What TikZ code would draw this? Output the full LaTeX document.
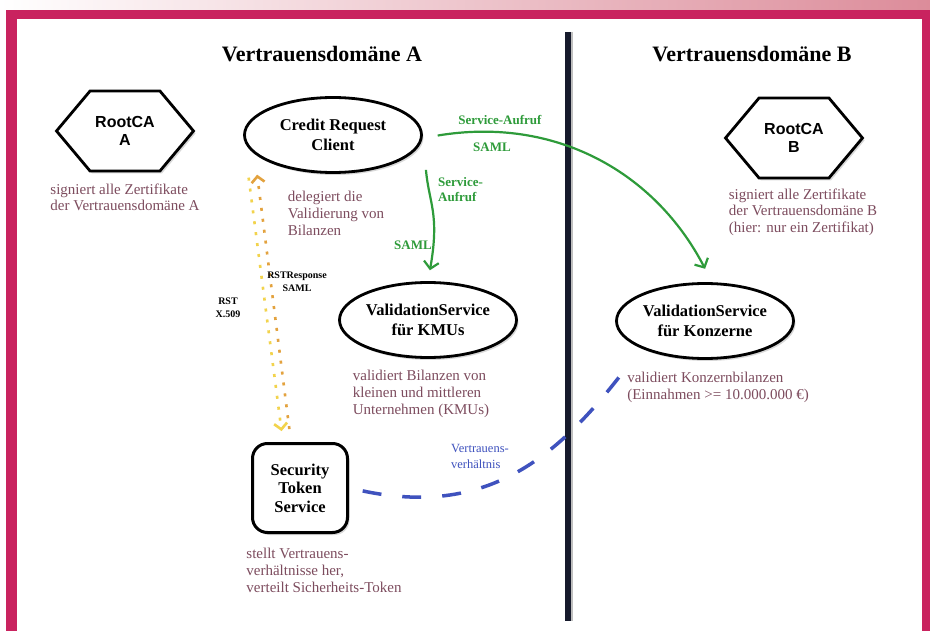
\documentclass[tikz,border=0pt]{standalone}
\usepackage{fontspec}
\setmainfont{Liberation Serif}
\setsansfont{Liberation Sans}
\usetikzlibrary{arrows.meta,positioning,shapes.geometric,shapes.symbols,shadows}
\definecolor{framepink}{HTML}{C9235F}
\definecolor{bandpink}{HTML}{DC8C9A}
\definecolor{notebrown}{HTML}{7D4C5E}
\definecolor{callgreen}{HTML}{2E9B3A}
\definecolor{trustblue}{HTML}{3F52BE}
\definecolor{rstyellow}{HTML}{F2D34C}
\definecolor{rstorange}{HTML}{E3A23E}
\definecolor{divnavy}{HTML}{161A2C}

\begin{document}
\begin{tikzpicture}[
  x=1pt, y=-1pt,
  softshadow/.style={drop shadow={shadow xshift=2pt, shadow yshift=-2.5pt, opacity=.3}},
  service/.style={ellipse, draw, line width=2.8pt, fill=white, inner xsep=-8pt, inner ysep=1pt, minimum width=177pt, minimum height=75pt, align=center, font=\bfseries\fontsize{16.5}{19.5}\selectfont, softshadow},
  rootca/.style={signal, signal to=east and west, signal pointer angle=100, draw, line width=2.8pt, fill=white, minimum width=137pt, minimum height=80pt, align=center, font=\sffamily\bfseries\fontsize{16}{17.5}\selectfont, softshadow},
  tokenbox/.style={rectangle, rounded corners=15pt, draw, line width=3pt, fill=white, minimum width=95pt, minimum height=89pt, align=center, font=\bfseries\fontsize{16.5}{18.5}\selectfont, softshadow},
  note/.style={text=notebrown, align=left, inner sep=0pt, font=\fontsize{15}{16.8}\selectfont},
  title/.style={font=\bfseries\fontsize{22}{26}\selectfont},
  call/.style={draw=callgreen, line width=2.2pt, -{Straight Barb[length=7pt, width=15pt]}},
  calllabel/.style={text=callgreen, align=left, inner sep=0pt, font=\bfseries\fontsize{13}{15.5}\selectfont},
  rstreq/.style={draw=rstyellow, line width=2.6pt, dash pattern=on 3pt off 8pt, -{Straight Barb[length=6pt, width=13pt]}},
  rstresp/.style={draw=rstorange, line width=2.6pt, dash pattern=on 3pt off 8pt, -{Straight Barb[length=6pt, width=13pt]}},
  rstlabel/.style={align=center, inner sep=0pt, font=\bfseries\fontsize{10}{13}\selectfont},
  trust/.style={draw=trustblue, line width=3.5pt, dash pattern=on 19pt off 21pt},
  trustlabel/.style={text=trustblue, align=left, inner sep=0pt, font=\fontsize{12.5}{16}\selectfont},
]
  % frame
  \shade[left color=white, right color=bandpink] (0,0) rectangle (930,10);
  \fill[framepink] (6,10) rectangle (930,631);
  \fill[white] (17,19) rectangle (922,631);

  % divider between the two domains
  \coordinate (divtop) at (568,32);
  \coordinate (divbot) at (568,621);
  \draw[line width=4pt, black!25] ([xshift=3pt]divtop) -- ([xshift=3pt]divbot);
  \draw[line width=6pt, divnavy] (divtop) -- (divbot);

  \node[title] (titleA) at (322,54) {Vertrauensdomäne A};
  \node[title] (titleB) at (752,54) {Vertrauensdomäne B};

  % domain A
  \node[rootca] (rootA) at (125,131) {RootCA\\A};
  \node[note, below=11pt of rootA] (noteRootA) {signiert alle Zertifikate\\der Vertrauensdomäne A};

  \node[service] (client) at (333,135) {Credit Request\\Client};
  \node[note, below=17pt of client, xshift=3pt] (noteClient) {delegiert die\\Validierung von\\Bilanzen};

  \node[service] (kmu) at (428,320) {ValidationService\\für KMUs};
  \node[note, below=11pt of kmu, xshift=-7pt] (noteKmu) {validiert Bilanzen von\\kleinen und mittleren\\Unternehmen (KMUs)};

  \node[tokenbox] (sts) at (300,488) {Security\\Token\\Service};
  \node[note, below=14pt of sts, xshift=24pt] (noteSts) {stellt Vertrauens-\\verhältnisse her,\\verteilt Sicherheits-Token};

  % domain B
  \node[rootca] (rootB) at (794,138) {RootCA\\B};
  \node[note, below=9pt of rootB, xshift=9pt] (noteRootB) {signiert alle Zertifikate\\der Vertrauensdomäne B\\(hier: nur ein Zertifikat)};

  \node[service] (konz) at (705,321) {ValidationService\\für Konzerne};
  \node[note, below=12pt of konz, xshift=13pt] (noteKonz) {validiert Konzernbilanzen\\(Einnahmen >= 10.000.000 €)};

  % service calls
  \draw[call, shorten <=15pt, shorten >=15pt] ([yshift=-3pt]client.east) .. controls (555,116) and (655,172) .. ([xshift=7pt]konz.north);
  \node[calllabel] (callKonz) at (500,120) {Service-Aufruf};
  \node[calllabel] (samlKonz) at (492,147) {SAML};

  \draw[call, shorten <=35pt, shorten >=11pt] (client.east) to[out=-85, in=80, looseness=1.2] (kmu.north);
  \node[calllabel, anchor=north west] (callKmu) at (438,177) {Service-\\Aufruf};
  \node[calllabel] (samlKmu) at (413,245) {SAML};

  % token request / response
  \draw[rstreq, shorten <=43pt, shorten >=11pt] (client.west) -- ([xshift=-17pt]sts.north);
  \draw[rstresp, shorten <=13pt, shorten >=40pt] ([xshift=-9pt]sts.north) -- ([xshift=9pt]client.west);
  \node[rstlabel] (rstReq) at (228,308) {RST\\X.509};
  \node[rstlabel] (rstResp) at (297,282) {RSTResponse\\SAML};

  % trust relation
  \draw[trust, shorten <=14pt, shorten >=36pt] (sts.east) to[out=-12, in=232, looseness=1.1] (konz.south west);
  \node[trustlabel] (trustLbl) at (480,456) {Vertrauens-\\verhältnis};
\end{tikzpicture}
\end{document}
